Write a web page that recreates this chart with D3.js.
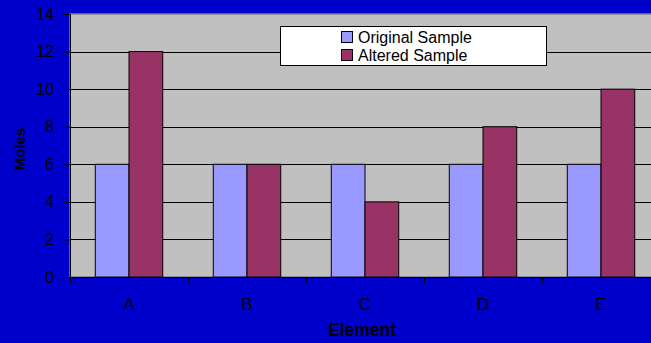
<!DOCTYPE html>
<html>
<head>
<meta charset="utf-8">
<script src="https://cdn.jsdelivr.net/npm/d3@7"></script>
<style>
  html, body { margin: 0; padding: 0; background: #0000CC; }
  svg { display: block; }
  text { font-family: Arial, "Liberation Sans", sans-serif; fill: #000; }
</style>
</head>
<body>
<script>
// Moles of each element in the two samples
const elements = ["A", "B", "C", "D", "E"];
const seriesNames = ["Original Sample", "Altered Sample"];
const original = [6, 6, 6, 6, 6];
const altered = [12, 6, 4, 8, 10];
const yTicks = [0, 2, 4, 6, 8, 10, 12, 14];
const colors = ["#9999FF", "#993366"];

const W = 651, H = 343;
const plot = { left: 70, top: 14, right: 660, bottom: 277 };

const svg = d3.select("body").append("svg")
  .attr("width", W).attr("height", H);

svg.append("rect").attr("width", W).attr("height", H).attr("fill", "#0000CC");

const x = d3.scaleBand().domain(elements)
  .range([plot.left, plot.right]).paddingInner(0).paddingOuter(0);
const y = d3.scaleLinear().domain([0, 14]).range([plot.bottom, plot.top]);

// Bar groups: 150% gap width → each bar is band / 3.5
const barW = x.bandwidth() / 3.5;
const gap = barW * 0.75;

// Plot area
svg.append("rect")
  .attr("x", plot.left).attr("y", plot.top)
  .attr("width", plot.right - plot.left).attr("height", plot.bottom - plot.top)
  .attr("fill", "#C0C0C0").attr("stroke", "#808080").attr("stroke-width", 1.5);

// Horizontal gridlines
svg.append("g").selectAll("line").data(yTicks.filter(d => d > 0 && d < 14)).join("line")
  .attr("x1", plot.left).attr("x2", plot.right)
  .attr("y1", d => Math.round(y(d)) + 0.5).attr("y2", d => Math.round(y(d)) + 0.5)
  .attr("stroke", "#000").attr("stroke-width", 1);

// Bars
const data = elements.map((e, i) => ({ e, vals: [original[i], altered[i]] }));
const groups = svg.append("g").selectAll("g").data(data).join("g");
groups.selectAll("rect").data(d => d.vals.map((v, s) => ({ e: d.e, v, s }))).join("rect")
  .attr("x", d => x(d.e) + gap + d.s * barW)
  .attr("y", d => y(d.v))
  .attr("width", barW)
  .attr("height", d => y(0) - y(d.v))
  .attr("fill", d => colors[d.s])
  .attr("stroke", "#000").attr("stroke-width", 1);

// Y axis
const yAxis = d3.axisLeft(y).tickValues(yTicks).tickSize(7).tickPadding(9);
const gy = svg.append("g").attr("transform", `translate(${plot.left},0)`).call(yAxis);
gy.select(".domain").attr("stroke", "#000");
gy.selectAll(".tick line").attr("stroke", "#000");
gy.selectAll(".tick text").attr("font-size", 16).attr("font-family", "Arial, 'Liberation Sans', sans-serif").attr("fill", "#000");

// X axis with ticks on category boundaries
svg.append("line")
  .attr("x1", plot.left).attr("x2", plot.right)
  .attr("y1", plot.bottom + 0.5).attr("y2", plot.bottom + 0.5)
  .attr("stroke", "#000").attr("stroke-width", 1.2);
svg.append("g").selectAll("line").data(elements.concat(["_end"])).join("line")
  .attr("x1", (d, i) => x.range()[0] + i * x.step() + 0.5)
  .attr("x2", (d, i) => x.range()[0] + i * x.step() + 0.5)
  .attr("y1", plot.bottom).attr("y2", plot.bottom + 6)
  .attr("stroke", "#000");
svg.append("g").selectAll("text").data(elements).join("text")
  .attr("x", d => x(d) + x.bandwidth() / 2)
  .attr("y", 309.5)
  .attr("text-anchor", "middle")
  .attr("font-size", 17)
  .text(d => d);

// Axis titles
svg.append("text")
  .attr("x", (plot.left + plot.right) / 2 - 3).attr("y", 336)
  .attr("text-anchor", "middle").attr("font-size", 17.5).attr("font-weight", "bold")
  .text("Element");
svg.append("text")
  .attr("transform", "translate(24.5,149) rotate(-90)")
  .attr("text-anchor", "middle").attr("font-size", 15).attr("font-weight", "bold")
  .text("Moles");

// Legend
const lg = svg.append("g");
lg.append("rect").attr("x", 280.5).attr("y", 26.5).attr("width", 266).attr("height", 39)
  .attr("fill", "#fff").attr("stroke", "#000").attr("stroke-width", 1);
seriesNames.forEach((name, i) => {
  const cy = 37 + i * 18;
  lg.append("rect").attr("x", 341.5).attr("y", cy - 5.5).attr("width", 11).attr("height", 11)
    .attr("fill", colors[i]).attr("stroke", "#000");
  lg.append("text").attr("x", 358).attr("y", cy + 6).attr("font-size", 16).text(name);
});
</script>
</body>
</html>
